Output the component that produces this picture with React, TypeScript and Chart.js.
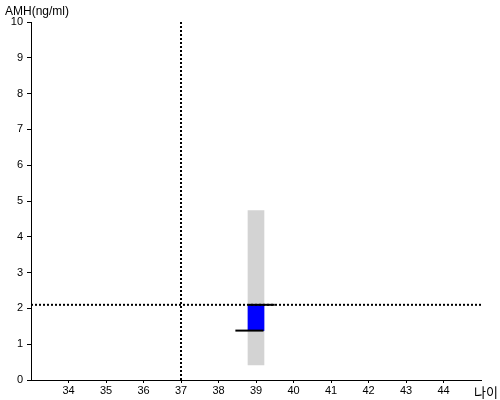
import React, { useEffect, useRef } from "react";
import { Chart, registerables } from "chart.js";

Chart.register(...registerables);

const xMin = 33;
const xMax = 45;
const xTickValues = [34, 35, 36, 37, 38, 39, 40, 41, 42, 43, 44];
const yMin = 0;
const yMax = 10;
const age = 39;
const normalRange = [0.42, 4.73];
const amhRange = [1.38, 2.1];
const amhValue = 2.1;
const ageValue = 37;
const upperMark = [38.8, 39.5];
const lowerMark = [38.45, 39.2];
const yTitle = "AMH(ng/ml)";
const xTitle = "나이";

const titlePlugin = {
  id: "axisTitles",
  afterDraw(chart: any) {
    const ctx = chart.ctx;
    ctx.save();
    ctx.fillStyle = "#000";
    ctx.font = '12px "Liberation Sans", Arial, sans-serif';
    ctx.textBaseline = "alphabetic";
    ctx.textAlign = "left";
    ctx.fillText(yTitle, 5, 15);
    ctx.font = '13px "Noto Sans CJK KR", sans-serif';
    ctx.fillText(xTitle, 474, 397);
    ctx.restore();
  },
};

export default function App() {
  const ref = useRef<HTMLCanvasElement>(null);
  useEffect(() => {
    if (!ref.current) return;
    const chart = new Chart(ref.current, {
      type: "bar",
      data: {
        datasets: [
          {
            type: "line",
            data: [
              { x: upperMark[0], y: amhRange[1] },
              { x: upperMark[1], y: amhRange[1] },
            ],
            borderColor: "#000",
            borderWidth: 2,
            pointRadius: 0,
            order: 1,
          } as any,
          {
            type: "line",
            data: [
              { x: lowerMark[0], y: amhRange[0] },
              { x: lowerMark[1], y: amhRange[0] },
            ],
            borderColor: "#000",
            borderWidth: 2,
            pointRadius: 0,
            order: 1,
          } as any,
          {
            type: "line",
            data: [
              { x: xMin, y: amhValue },
              { x: xMax, y: amhValue },
            ],
            borderColor: "#000",
            borderWidth: 2,
            borderDash: [2, 2],
            pointRadius: 0,
            order: 3,
          } as any,
          {
            type: "line",
            data: [
              { x: ageValue, y: yMin },
              { x: ageValue, y: yMax },
            ],
            borderColor: "#000",
            borderWidth: 2,
            borderDash: [2, 2],
            pointRadius: 0,
            order: 3,
          } as any,
          {
            type: "bar",
            data: [{ x: age, y: amhRange }],
            backgroundColor: "#0000ff",
            barThickness: 16,
            grouped: false,
            borderWidth: 0,
            order: 4,
          } as any,
          {
            type: "bar",
            data: [{ x: age, y: normalRange }],
            backgroundColor: "#d3d3d3",
            barThickness: 16,
            grouped: false,
            borderWidth: 0,
            order: 5,
          } as any,
        ],
      },
      options: {
        animation: false,
        responsive: false,
        layout: { padding: { top: 22, right: 19, bottom: 0, left: 0 } },
        plugins: { legend: { display: false }, tooltip: { enabled: false } },
        scales: {
          x: {
            type: "linear",
            min: xMin,
            max: xMax,
            offset: false,
            afterBuildTicks: (scale: any) => {
              scale.ticks = xTickValues.map((v) => ({ value: v }));
            },
            afterFit: (scale: any) => {
              scale.height = 20;
            },
            grid: { display: true, offset: false, drawOnChartArea: false, drawTicks: true, tickLength: 3, color: "#000" },
            border: { display: true, color: "#000", width: 1 },
            ticks: {
              color: "#000",
              padding: 1,
              maxRotation: 0,
              autoSkip: false,
              font: { family: '"Liberation Sans", Arial, sans-serif', size: 11 },
            },
          },
          y: {
            type: "linear",
            min: yMin,
            max: yMax,
            afterFit: (scale: any) => {
              scale.width = 31;
            },
            grid: { display: true, drawOnChartArea: false, drawTicks: true, tickLength: 4, color: "#000" },
            border: { display: true, color: "#000", width: 1 },
            ticks: {
              stepSize: 1,
              color: "#000",
              padding: 4,
              font: { family: '"Liberation Sans", Arial, sans-serif', size: 11 },
            },
          },
        },
      },
      plugins: [titlePlugin],
    } as any);
    return () => chart.destroy();
  }, []);
  return (
    <div style={{ position: "fixed", left: 0, top: 0, width: 500, height: 400, background: "#fff" }}>
      <canvas ref={ref} width={500} height={400} style={{ display: "block" }} />
    </div>
  );
}
